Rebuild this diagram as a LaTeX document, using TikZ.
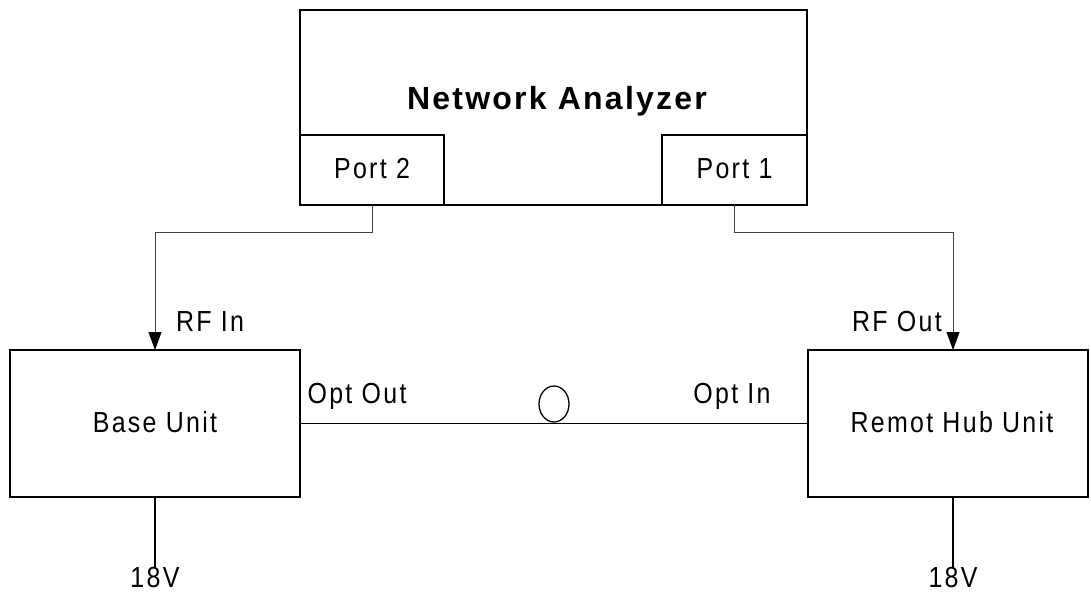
\documentclass[tikz,border=0pt]{standalone}
\usepackage{fontspec}
\setmainfont{Liberation Sans}[LetterSpace=8,FakeStretch=0.86]
\newfontfamily\nabold{Liberation Sans Bold}[LetterSpace=7]
\usetikzlibrary{arrows.meta,shapes.geometric}
\tikzset{
  box/.style={draw, line width=1.6pt, rectangle, inner sep=0pt, outer sep=0pt, font=\fontsize{29}{32}\selectfont},
  conn/.style={draw=black!75, line width=0.9pt},
  arr/.style={-{Triangle[width=13pt,length=18pt,black]}},
  wire/.style={line width=1.6pt},
  lbl/.style={inner sep=0pt, font=\fontsize{29}{32}\selectfont},
}
\begin{document}
\begin{tikzpicture}[x=1pt,y=-1pt]
\useasboundingbox (0,0) rectangle (1091,597);
\node[box, minimum width=507pt, minimum height=195pt] (na) at (553.5,107.5) {};
\node[inner sep=0pt, font=\nabold\fontsize{32}{34}\selectfont] (nalabel) at (557,101) {Network Analyzer};
\node[box, minimum width=144pt, minimum height=70pt, anchor=south west] (p2) at (na.south west) {\raisebox{3pt}{Port 2}};
\node[box, minimum width=145pt, minimum height=70pt, anchor=south east] (p1) at (na.south east) {\raisebox{3pt}{Port 1}};
\node[box, minimum width=290pt, minimum height=147pt] (base) at (155,423.5) {\raisebox{3pt}{Base Unit}};
\node[box, minimum width=280pt, minimum height=147pt] (rem) at (948,423.5) {\hspace*{8pt}\raisebox{3pt}{Remot Hub Unit}};
\coordinate (rin) at ([xshift=5pt]rem.north);
\draw[conn, arr] (p2.south) -- ++(0,27) -| (base.north);
\draw[conn, arr] (p1.south) -- ++(0,27) -| (rin);
\draw[wire] (base.east) -- (rem.west);
\node[draw, line width=1.3pt, ellipse, minimum width=30pt, minimum height=36pt, inner sep=0pt] (fiber) at (554,404) {};
\node[lbl] (rfin) at (210,322) {RF In};
\node[lbl, anchor=east] (rfout) at (942,322) {RF Out};
\node[lbl] (optout) at (357,396) {Opt Out};
\node[lbl] (optin) at (732,396) {Opt In};
\node[lbl, anchor=north] (v1) at (155,567) {18V};
\node[lbl, anchor=north] (v2) at ([xshift=5pt]rem.south |- v1.north) {18V};
\draw[wire] (base.south) -- (v1.north);
\draw[wire] ([xshift=5pt]rem.south) -- (v2.north);
\end{tikzpicture}
\end{document}
